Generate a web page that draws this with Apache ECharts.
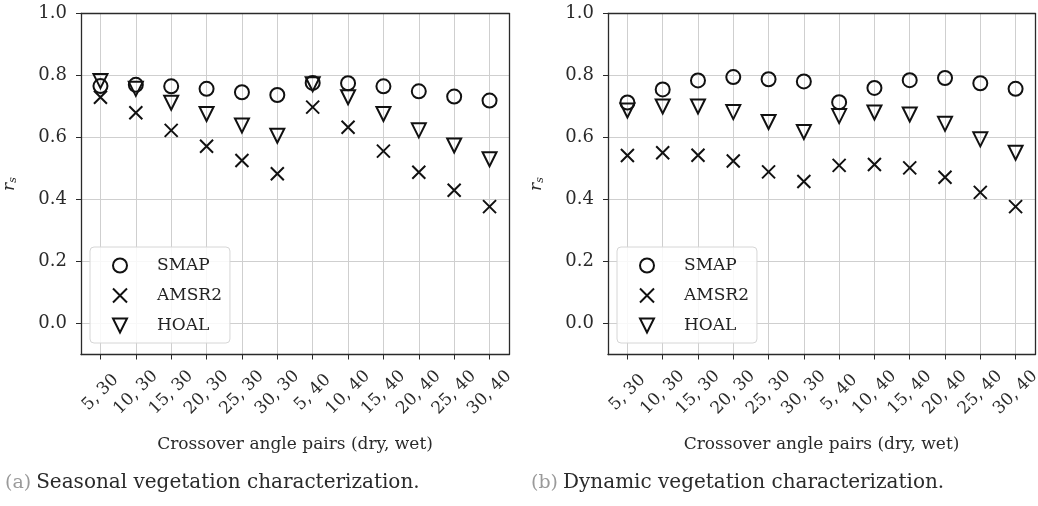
<!DOCTYPE html>
<html>
<head>
<meta charset="utf-8">
<script src="https://cdn.jsdelivr.net/npm/echarts@6/dist/echarts.min.js"></script>
<style>
  html, body { margin: 0; padding: 0; background: #fff; }
  #chart { width: 1038px; height: 506px; }
</style>
</head>
<body>
<div id="chart"></div>
<script>
// Crossover angle pairs (dry, wet)
const categories = ['5, 30', '10, 30', '15, 30', '20, 30', '25, 30', '30, 30',
                    '5, 40', '10, 40', '15, 40', '20, 40', '25, 40', '30, 40'];
const yTicks = [0.0, 0.2, 0.4, 0.6, 0.8, 1.0];

// (a) Seasonal vegetation characterization
const smapSeasonal  = [0.766, 0.770, 0.765, 0.757, 0.746, 0.737, 0.776, 0.775, 0.765, 0.749, 0.732, 0.719];
const amsr2Seasonal = [0.730, 0.680, 0.623, 0.572, 0.526, 0.483, 0.698, 0.633, 0.556, 0.488, 0.430, 0.377];
const hoalSeasonal  = [0.782, 0.757, 0.712, 0.676, 0.639, 0.606, 0.772, 0.730, 0.676, 0.623, 0.574, 0.530];

// (b) Dynamic vegetation characterization
const smapDynamic  = [0.713, 0.755, 0.784, 0.795, 0.788, 0.781, 0.714, 0.760, 0.785, 0.792, 0.775, 0.757];
const amsr2Dynamic = [0.542, 0.551, 0.543, 0.524, 0.489, 0.458, 0.510, 0.513, 0.502, 0.472, 0.423, 0.377];
const hoalDynamic  = [0.687, 0.700, 0.700, 0.682, 0.650, 0.618, 0.669, 0.681, 0.674, 0.644, 0.594, 0.551];

const SERIF = '"DejaVu Serif", serif';
const INK = '#111111';
const SPINE = { color: '#2a2a2a', width: 1.3 };
const catIdx = categories.map((_, i) => i);

function pairs(values) {
  return values.map((v, i) => [i, v]);
}

function xAxisFor(gridIndex) {
  return {
    type: 'value', gridIndex,
    min: -0.55, max: 11.55,
    axisLine: { show: true, onZero: false, lineStyle: SPINE },
    axisTick: { show: true, customValues: catIdx, length: 5, inside: false, lineStyle: { color: '#2a2a2a', width: 1 } },
    axisLabel: {
      customValues: catIdx,
      formatter: v => categories[Math.round(v)],
      rotate: 45, align: 'center', verticalAlign: 'middle', margin: 38,
      fontFamily: SERIF, fontSize: 17, color: '#2a2a2a'
    },
    splitLine: { show: true, lineStyle: { color: '#cfcfcf', width: 1 } },
    name: 'Crossover angle pairs (dry, wet)',
    nameLocation: 'middle', nameGap: 82,
    nameTextStyle: { fontFamily: SERIF, fontSize: 17, color: '#2a2a2a' }
  };
}

// closing spine along the top of each panel
function topAxisFor(gridIndex) {
  return {
    type: 'value', gridIndex, position: 'top',
    min: -0.55, max: 11.55,
    axisLine: { show: true, onZero: false, lineStyle: SPINE },
    axisTick: { show: false }, axisLabel: { show: false }, splitLine: { show: false }
  };
}

function yAxisFor(gridIndex) {
  return {
    type: 'value', gridIndex,
    min: -0.1, max: 1.0,
    axisLine: { show: true, onZero: false, lineStyle: SPINE },
    axisTick: { show: true, customValues: yTicks, length: 5, lineStyle: { color: '#2a2a2a', width: 1 } },
    axisLabel: {
      customValues: yTicks,
      formatter: v => v.toFixed(1),
      margin: 14, fontFamily: SERIF, fontSize: 18, color: '#2a2a2a'
    },
    splitLine: { show: true, lineStyle: { color: '#cfcfcf', width: 1 } },
    name: '{r|r}{s|s}',
    nameLocation: 'middle', nameGap: 62, nameRotate: 90,
    nameTextStyle: {
      rich: {
        r: { fontFamily: SERIF, fontStyle: 'italic', fontSize: 17, color: '#2a2a2a' },
        s: { fontFamily: SERIF, fontStyle: 'italic', fontSize: 11, color: '#2a2a2a', padding: [8, 0, 0, 0] }
      }
    }
  };
}

// closing spine along the right of each panel
function rightAxisFor(gridIndex) {
  return {
    type: 'value', gridIndex, position: 'right',
    min: -0.1, max: 1.0,
    axisLine: { show: true, onZero: false, lineStyle: SPINE },
    axisTick: { show: false }, axisLabel: { show: false }, splitLine: { show: false }
  };
}

const markerStyle = { color: 'rgba(0,0,0,0)', borderColor: INK, borderWidth: 2, opacity: 1 };
const CROSS = 'path://M0,0L10,10M10,0L0,10';
const TRI_DOWN = 'path://M0,0L10,0L5,10Z';

function seriesFor(gridIndex, smap, amsr2, hoal) {
  return [
    { name: 'SMAP', type: 'scatter', xAxisIndex: gridIndex, yAxisIndex: gridIndex,
      symbol: 'circle', symbolSize: 14, itemStyle: markerStyle, data: pairs(smap), z: 3 },
    { name: 'AMSR2', type: 'scatter', xAxisIndex: gridIndex, yAxisIndex: gridIndex,
      symbol: CROSS, symbolSize: 13, itemStyle: markerStyle, data: pairs(amsr2), z: 3 },
    { name: 'HOAL', type: 'scatter', xAxisIndex: gridIndex, yAxisIndex: gridIndex,
      symbol: TRI_DOWN, symbolSize: 14, itemStyle: markerStyle, data: pairs(hoal), z: 3 }
  ];
}

function legendAt(left) {
  return {
    orient: 'vertical', left, top: 247,
    data: [
      { name: 'SMAP', icon: 'circle' },
      { name: 'AMSR2', icon: CROSS },
      { name: 'HOAL', icon: TRI_DOWN }
    ],
    itemWidth: 14, itemHeight: 14, itemGap: 13,
    padding: [10, 8, 9, 22],
    backgroundColor: 'rgba(255,255,255,0.85)',
    borderColor: '#d6d6d6', borderWidth: 1, borderRadius: 4,
    selectedMode: false,
    itemStyle: { color: 'rgba(0,0,0,0)', borderColor: INK, borderWidth: 2, opacity: 1 },
    textStyle: { fontFamily: SERIF, fontSize: 17, color: '#222', padding: [0, 0, 0, 25] }
  };
}

function caption(left, tag, text) {
  return {
    left, top: 468,
    text: '{tag|' + tag + '} {cap|' + text + '}',
    textStyle: {
      fontWeight: 'normal',
      rich: {
        tag: { fontFamily: SERIF, fontSize: 19, fontWeight: 'normal', color: '#9a9a9a' },
        cap: { fontFamily: SERIF, fontSize: 20, fontWeight: 'normal', color: '#2a2a2a' }
      }
    }
  };
}

const chart = echarts.init(document.getElementById('chart'), null, { renderer: 'canvas' });
chart.setOption({
  animation: false,
  backgroundColor: '#ffffff',
  title: [
    caption(0, '(a)', 'Seasonal vegetation characterization.'),
    caption(526, '(b)', 'Dynamic vegetation characterization.')
  ],
  grid: [
    { left: 81, top: 13.5, width: 428, height: 341, outerBoundsMode: 'none', containLabel: false },
    { left: 608, top: 13.5, width: 427, height: 341, outerBoundsMode: 'none', containLabel: false }
  ],
  legend: [legendAt(90), legendAt(617)],
  xAxis: [xAxisFor(0), xAxisFor(1), topAxisFor(0), topAxisFor(1)],
  yAxis: [yAxisFor(0), yAxisFor(1), rightAxisFor(0), rightAxisFor(1)],
  series: [
    ...seriesFor(0, smapSeasonal, amsr2Seasonal, hoalSeasonal),
    ...seriesFor(1, smapDynamic, amsr2Dynamic, hoalDynamic)
  ]
});
</script>
</body>
</html>
